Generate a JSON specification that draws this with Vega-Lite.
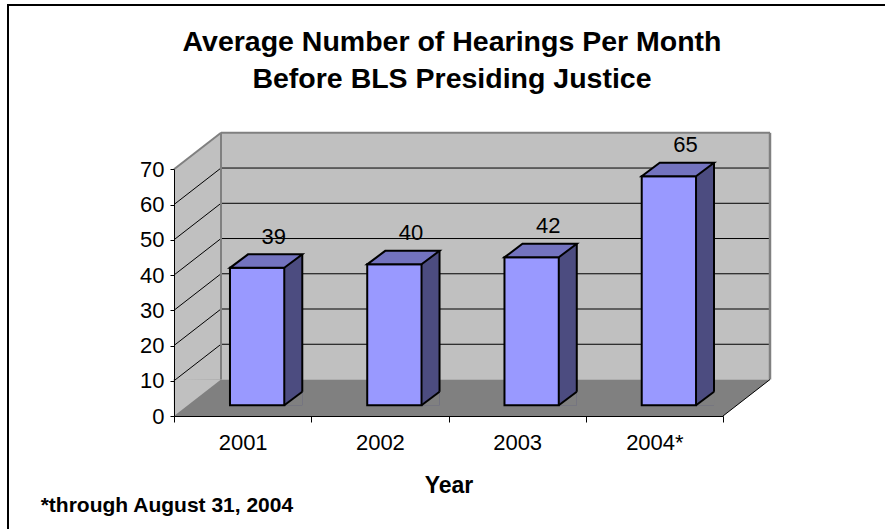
{
  "$schema": "https://vega.github.io/schema/vega-lite/v6.json",
  "width": 882,
  "height": 530,
  "autosize": {"type": "none"},
  "padding": {"left": 8, "top": 5, "right": -5, "bottom": -6},
  "background": "white",
  "config": {
    "font": "Liberation Sans",
    "view": {"stroke": "#000000", "strokeWidth": 2}
  },
  "title": {
    "text": ["Average Number of Hearings Per Month", "Before BLS Presiding Justice"],
    "font": "Liberation Sans",
    "fontSize": 28.5,
    "fontWeight": "bold",
    "color": "#000000",
    "lineHeight": 37.3,
    "anchor": "middle",
    "frame": "group",
    "offset": -88.5,
    "dx": 3
  },
  "datasets": {
    "hearings": [
      {"year": "2001", "hearings": 39},
      {"year": "2002", "hearings": 40},
      {"year": "2003", "hearings": 42},
      {"year": "2004*", "hearings": 65}
    ],
    "gridlines": [
      {"level": 10}, {"level": 20}, {"level": 30}, {"level": 40}, {"level": 50}, {"level": 60}
    ]
  },
  "resolve": {"scale": {"x": "independent"}},
  "layer": [
    {
      "data": {"values": [{}]},
      "layer": [
        {
          "mark": {"type": "rect", "fill": "#C0C0C0", "xOffset": 47, "x2Offset": 47, "yOffset": -36.5, "y2Offset": -36.5},
          "encoding": {
            "x": {"datum": 0, "type": "quantitative", "scale": {"domain": [0, 4], "range": [166, 715], "nice": false, "zero": false}, "axis": null},
            "x2": {"datum": 4},
            "y": {"datum": 0, "type": "quantitative", "scale": {"domain": [0, 70], "range": [411, 164.3], "nice": false}},
            "y2": {"datum": 70}
          }
        },
        {
          "mark": {"type": "rect", "fill": "#C0C0C0", "x2Offset": 47, "y2Offset": -36.5},
          "encoding": {
            "x": {"datum": 0, "type": "quantitative", "axis": null},
            "x2": {"datum": 0},
            "y": {"datum": 0, "type": "quantitative"},
            "y2": {"datum": 70}
          }
        },
        {
          "mark": {"type": "point", "shape": "M-1,0.8 L-1,-38 L48.5,-38 Z", "size": 4, "filled": true, "fill": "#FFFFFF", "strokeWidth": 0, "opacity": 1},
          "encoding": {
            "x": {"datum": 0, "type": "quantitative", "axis": null},
            "y": {"datum": 70, "type": "quantitative"}
          }
        },
        {
          "mark": {"type": "rect", "fill": "#808080", "x2Offset": 47, "y2Offset": -36.5},
          "encoding": {
            "x": {"datum": 0, "type": "quantitative", "axis": null},
            "x2": {"datum": 4},
            "y": {"datum": 0, "type": "quantitative"},
            "y2": {"datum": 0}
          }
        },
        {
          "mark": {"type": "point", "shape": "M0,0 L-0.5,-37 L47,-36.5 Z", "size": 4, "filled": true, "fill": "#C0C0C0", "strokeWidth": 0, "opacity": 1},
          "encoding": {
            "x": {"datum": 0, "type": "quantitative", "axis": null},
            "y": {"datum": 0, "type": "quantitative"}
          }
        },
        {
          "mark": {"type": "point", "shape": "M0,0 L47,-36.5 L49,-37 L49,1 L0,1 Z", "size": 4, "filled": true, "fill": "#FFFFFF", "strokeWidth": 0, "opacity": 1},
          "encoding": {
            "x": {"datum": 4, "type": "quantitative", "axis": null},
            "y": {"datum": 0, "type": "quantitative"}
          }
        },
        {
          "data": {"name": "gridlines"},
          "mark": {"type": "rule", "stroke": "#000000", "strokeWidth": 1, "xOffset": 47, "x2Offset": 47, "yOffset": -36.5},
          "encoding": {
            "x": {"datum": 0, "type": "quantitative", "axis": null},
            "x2": {"datum": 4},
            "y": {"field": "level", "type": "quantitative"}
          }
        },
        {
          "data": {"name": "gridlines"},
          "mark": {"type": "rule", "stroke": "#000000", "strokeWidth": 1, "x2Offset": 47, "y2Offset": -36.5},
          "encoding": {
            "x": {"datum": 0, "type": "quantitative", "axis": null},
            "x2": {"datum": 0},
            "y": {"field": "level", "type": "quantitative"},
            "y2": {"field": "level"}
          }
        },
        {
          "mark": {"type": "rule", "stroke": "#808080", "strokeWidth": 2, "x2Offset": 47, "y2Offset": -36.5},
          "encoding": {
            "x": {"datum": 0, "type": "quantitative", "axis": null},
            "x2": {"datum": 0},
            "y": {"datum": 70, "type": "quantitative"},
            "y2": {"datum": 70}
          }
        },
        {
          "mark": {"type": "rule", "stroke": "#808080", "strokeWidth": 2, "xOffset": 47, "x2Offset": 47, "yOffset": -36.5},
          "encoding": {
            "x": {"datum": 0, "type": "quantitative", "axis": null},
            "x2": {"datum": 4},
            "y": {"datum": 70, "type": "quantitative"}
          }
        },
        {
          "mark": {"type": "rule", "stroke": "#808080", "strokeWidth": 2, "xOffset": 47, "yOffset": -36.5, "y2Offset": -36.5},
          "encoding": {
            "x": {"datum": 0, "type": "quantitative", "axis": null},
            "y": {"datum": 0, "type": "quantitative"},
            "y2": {"datum": 70}
          }
        },
        {
          "mark": {"type": "rule", "stroke": "#808080", "strokeWidth": 2.5, "xOffset": 47, "yOffset": -36.5, "y2Offset": -36.5},
          "encoding": {
            "x": {"datum": 4, "type": "quantitative", "axis": null},
            "y": {"datum": 0, "type": "quantitative"},
            "y2": {"datum": 70}
          }
        },
        {
          "mark": {"type": "rule", "stroke": "#000000", "strokeWidth": 1, "x2Offset": 47, "y2Offset": -36.5},
          "encoding": {
            "x": {"datum": 4, "type": "quantitative", "axis": null},
            "x2": {"datum": 4},
            "y": {"datum": 0, "type": "quantitative"},
            "y2": {"datum": 0}
          }
        }
      ]
    },
    {
      "data": {"name": "hearings"},
      "encoding": {
        "x": {
          "field": "year",
          "type": "nominal",
          "sort": null,
          "scale": {"type": "band", "range": [166, 715], "paddingInner": 0, "paddingOuter": 0},
          "axis": {
            "title": "Year",
            "titleFont": "Liberation Sans",
            "titleFontSize": 23,
            "titleFontWeight": "bold",
            "titleColor": "#000000",
            "titleY": 76,
            "titleBaseline": "alphabetic",
            "labelFont": "Liberation Sans",
            "labelFontSize": 22,
            "labelColor": "#000000",
            "labelAngle": 0,
            "labelPadding": 10,
            "tickSize": 6,
            "tickColor": "#000000",
            "tickBand": "extent",
            "domainColor": "#000000",
            "offset": -119,
            "grid": false,
            "zindex": 1
          }
        }
      },
      "layer": [
        {
          "mark": {"type": "bar", "width": 18, "xOffset": 50.65, "yOffset": -24.2, "y2Offset": -10.7, "fill": "#4C4C80"},
          "encoding": {
            "y": {"field": "hearings", "type": "quantitative"},
            "y2": {"datum": 0}
          }
        },
        {
          "mark": {"type": "point", "shape": "M41.65,-10.7 L59.65,-10.7 L59.65,-24.2 Z", "size": 4, "filled": true, "fill": "#808080", "strokeWidth": 0, "opacity": 1},
          "encoding": {
            "y": {"datum": 0, "type": "quantitative"}
          }
        },
        {
          "mark": {"type": "bar", "width": 54.3, "xOffset": 14.5, "yOffset": -10.7, "y2Offset": -10.7, "fill": "#9999FF", "stroke": "#000000", "strokeWidth": 2},
          "encoding": {
            "y": {
              "field": "hearings",
              "type": "quantitative",
              "axis": {
                "values": [0, 10, 20, 30, 40, 50, 60, 70],
                "title": "*through August 31, 2004",
                "titleFont": "Liberation Sans",
                "titleFontSize": 21,
                "titleFontWeight": "bold",
                "titleColor": "#000000",
                "titleAngle": 0,
                "titleAlign": "left",
                "titleBaseline": "alphabetic",
                "titleX": -133.8,
                "titleY": 506.2,
                "labelFont": "Liberation Sans",
                "labelFontSize": 22,
                "labelColor": "#000000",
                "labelPadding": 6,
                "tickSize": 4,
                "tickColor": "#000000",
                "domainColor": "#000000",
                "offset": -166,
                "grid": false,
                "zindex": 1
              }
            },
            "y2": {"datum": 0}
          }
        },
        {
          "mark": {"type": "point", "shape": "M-12.65,-10.7 L41.65,-10.7 L59.65,-24.2 L5.35,-24.2 Z", "size": 4, "filled": true, "fill": "#7373BF", "stroke": "#000000", "strokeWidth": 2, "opacity": 1},
          "encoding": {
            "y": {"field": "hearings", "type": "quantitative"}
          }
        },
        {
          "mark": {"type": "rule", "stroke": "#000000", "strokeWidth": 2, "xOffset": 59.65, "yOffset": -24.2, "y2Offset": -24.2},
          "encoding": {
            "y": {"field": "hearings", "type": "quantitative"},
            "y2": {"datum": 0}
          }
        },
        {
          "mark": {"type": "point", "shape": "M41.65,-10.7 L59.65,-24.2", "size": 4, "filled": false, "fill": null, "stroke": "#000000", "strokeWidth": 2, "opacity": 1},
          "encoding": {
            "y": {"datum": 0, "type": "quantitative"}
          }
        },
        {
          "mark": {"type": "text", "font": "Liberation Sans", "fontSize": 22, "color": "#000000", "align": "center", "baseline": "alphabetic", "xOffset": 31, "yOffset": -34.7},
          "encoding": {
            "y": {"field": "hearings", "type": "quantitative"},
            "text": {"field": "hearings", "type": "quantitative"}
          }
        }
      ]
    }
  ]
}
